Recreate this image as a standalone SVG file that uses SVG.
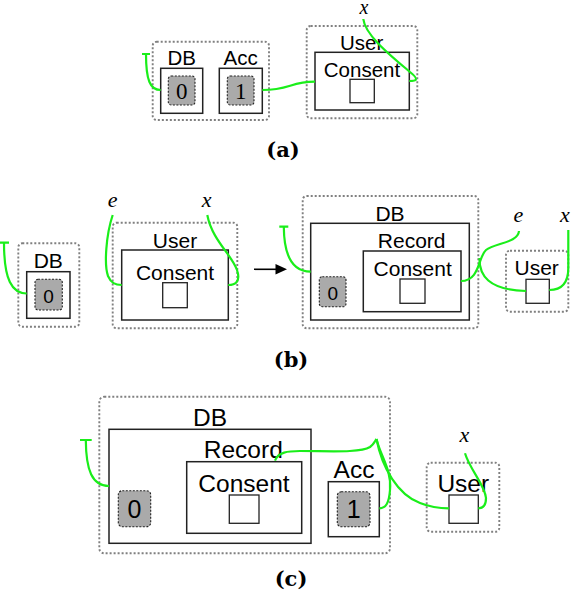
<svg xmlns="http://www.w3.org/2000/svg" width="574" height="598" viewBox="0 0 574 598">
<style>
.dot{fill:none;stroke:#808080;stroke-width:1.9;stroke-dasharray:2 2}
.box{fill:#fff;stroke:#222;stroke-width:1.5}
.val{fill:#aaa;stroke:#222;stroke-width:1.1;stroke-dasharray:2 1.5}
.sq{fill:#fff;stroke:#222;stroke-width:1.3}
.w{fill:none;stroke:#1aee1a;stroke-width:2.2;stroke-linecap:butt}
.t{font-family:"Liberation Sans",Arial,sans-serif;fill:#000;text-anchor:middle}
.a{font-size:20.5px}.b{font-size:21px}.c{font-size:24.5px}
.n{font-family:"Liberation Serif","Times New Roman",serif;font-size:23px;text-anchor:middle}
.m{font-family:"Liberation Serif","Times New Roman",serif;font-style:italic;font-size:22px;text-anchor:middle}
.cap{font-family:"DejaVu Serif",serif;font-weight:bold;font-size:21px;text-anchor:middle}
</style>
<rect width="574" height="598" fill="#fff"/>

<!-- Panel (a) -->
<g id="a-group">
<rect class="dot" x="152.7" y="41.7" width="116.3" height="78.3" rx="4"/>
</g>
<g id="a-db">
<text class="t a" x="181.7" y="65">DB</text>
<rect class="box" x="160.7" y="68.3" width="42" height="45"/>
<rect class="val" x="168.3" y="76" width="26.7" height="29" rx="3"/>
<text class="n" x="181.7" y="99.3">0</text>
</g>
<g id="a-acc">
<text class="t a" x="240.7" y="65">Acc</text>
<rect class="box" x="219.3" y="68.3" width="43" height="45"/>
<rect class="val" x="227.3" y="76" width="26.7" height="29" rx="3"/>
<text class="n" x="240.7" y="99.3">1</text>
</g>
<g id="a-user">
<rect class="dot" x="306.7" y="26" width="110.6" height="92.3" rx="4"/>
<text class="t a" x="361.7" y="50">User</text>
<rect class="box" x="315" y="52.3" width="94.3" height="57.7"/>
<text class="t a" x="362" y="76.7">Consent</text>
<rect class="sq" x="350" y="79.3" width="24.3" height="23.4"/>
</g>
<g id="a-x"><text class="m" style="font-size:20px" x="364" y="14">x</text></g>
<g id="a-wires">
<path class="w" d="M142,54 H150 M146,54 C146,80 150,90 160.7,90"/>
<path class="w" d="M262.3,90 C290,90 290,81.7 315,81.7"/>
<path class="w" d="M363.3,19 C365,35 390,55 410,72 C420,80 416,81 409.3,81"/>
</g>
<text class="cap" x="283" y="157">(a)</text>

<!-- Panel (b) -->
<g id="b-db">
<rect class="dot" x="18.3" y="243.3" width="61" height="83.4" rx="4"/>
<text class="t b" x="48.3" y="268.3">DB</text>
<rect class="box" x="26.7" y="271.7" width="43.3" height="46.6"/>
<rect class="val" x="35" y="279.3" width="27.3" height="30.7" rx="3"/>
<text class="t" style="font-size:19px" x="48.6" y="302.7">0</text>
</g>
<g id="b-user">
<rect class="dot" x="112.7" y="222.7" width="124.6" height="105.6" rx="4"/>
<text class="t b" x="175" y="248.3">User</text>
<rect class="box" x="121.7" y="250" width="106.6" height="70"/>
<text class="t b" x="175" y="280">Consent</text>
<rect class="sq" x="162.7" y="282.7" width="24.6" height="25"/>
</g>
<g id="b-labels">
<text class="m" x="112.7" y="206.7">e</text>
<text class="m" x="206.7" y="206.7">x</text>
<text class="m" x="518.3" y="221.7">e</text>
<text class="m" x="565" y="221.7">x</text>
</g>
<g id="b-db2">
<rect class="dot" x="302.7" y="196" width="175.6" height="132.3" rx="4"/>
<text class="t b" x="390" y="220.7">DB</text>
<rect class="box" x="310.7" y="223.3" width="158.6" height="96.7"/>
<text class="t b" x="411.7" y="248.3">Record</text>
<rect class="box" x="363.3" y="251" width="97.7" height="60.7"/>
<text class="t b" x="412.7" y="276">Consent</text>
<rect class="sq" x="400" y="279" width="25" height="24.3"/>
<rect class="val" x="319.3" y="276.7" width="26.7" height="30" rx="3"/>
<text class="t" style="font-size:19px" x="332.7" y="300">0</text>
</g>
<g id="b-user2">
<rect class="dot" x="506" y="250.7" width="62.3" height="61" rx="4"/>
<text class="t b" x="536.7" y="275">User</text>
<rect class="sq" x="526" y="279.3" width="23.3" height="24"/>
</g>
<g id="b-wires">
<path class="w" d="M0,242.7 H9 M4,242.7 C4,280 12,293.5 26.7,293.5"/>
<path class="w" d="M112.7,215 C106,235 104,265 108,276 C111,283 115,285 121.7,285"/>
<path class="w" d="M207.3,215 C212,240 232,255 237,270 C241,282 235,285 228.3,285"/>
<path d="M254,269.3 H277" stroke="#000" stroke-width="1.6" fill="none"/>
<polygon points="275.5,264 287,269.3 275.5,274.6" fill="#000"/>
<path class="w" d="M279.3,226.7 H288.3 M283.8,226.7 C284,255 292,271.7 310.7,271.7"/>
<path class="w" d="M519,231 C518,243 495,243 486,250 C478,257 480,281 461,281"/>
<path class="w" d="M479.5,258 C479,275 488,290 526,291"/>
<path class="w" d="M568.3,230 L568.3,268 C568.3,285 560,290 549.3,290"/>
</g>
<text class="cap" x="291" y="367">(b)</text>

<!-- Panel (c) -->
<g id="c-db">
<rect class="dot" x="99.3" y="396.7" width="290.7" height="156.6" rx="5"/>
<text class="t c" x="210" y="426">DB</text>
<rect class="box" x="109" y="429.3" width="202" height="114"/>
<text class="t c" x="243.3" y="458.3">Record</text>
<rect class="box" x="186.7" y="461.7" width="115" height="71.6"/>
<text class="t c" x="244" y="491.7">Consent</text>
<rect class="sq" x="229.3" y="495" width="29.7" height="28.3"/>
<rect class="val" x="118.3" y="490.7" width="32.4" height="36" rx="4"/>
<text class="t" style="font-size:25px" x="134.5" y="518.3">0</text>
</g>
<g id="c-acc">
<text class="t c" x="354" y="478.3">Acc</text>
<rect class="box" x="328.3" y="481.7" width="51" height="55"/>
<rect class="val" x="337.3" y="491.7" width="32.7" height="35" rx="4"/>
<text class="t" style="font-size:25px" x="353.7" y="518.3">1</text>
</g>
<g id="c-user">
<rect class="dot" x="426.7" y="462.7" width="72.6" height="69" rx="4"/>
<text class="t c" x="463.3" y="491.7">User</text>
<rect class="sq" x="449" y="495" width="29.3" height="28.3"/>
</g>
<g id="c-x"><text class="m" x="464.3" y="442.3">x</text></g>
<g id="c-wires">
<path class="w" d="M80,440 H91.7 M85.8,440 C86,470 92,486 109,486"/>
<path class="w" d="M275,460.7 C278,452 288,451 300,451 C330,451 360,453 370,447 C374,444 375,441 376.5,439"/>
<path class="w" d="M376.5,439 C380,455 392,470 390,490 C389,503 386,508.3 379.3,508.3"/>
<path class="w" d="M376.5,439 C382,468 398,495 420,503 C430,507 440,508.3 449,508.3"/>
<path class="w" d="M465,453.3 C470,470 485,485 486,498 C486,505 483,508.3 478.3,508.3"/>
</g>
<text class="cap" x="291" y="586">(c)</text>
</svg>
